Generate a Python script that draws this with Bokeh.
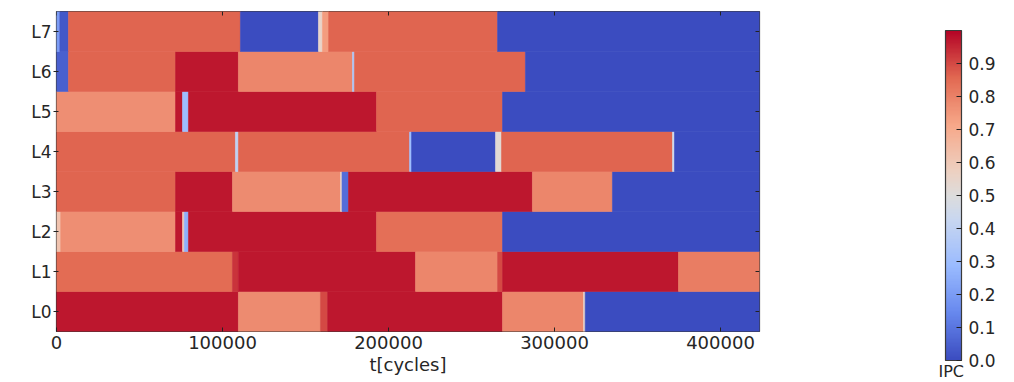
import numpy as np
from bokeh.plotting import figure
from bokeh.models import (Range1d, FixedTicker, LinearColorMapper, ColorBar,
                          ColumnDataSource)
from bokeh.transform import linear_cmap
from bokeh.embed import file_html
from bokeh.resources import INLINE

# ---------------- data ----------------
rows = ["L0", "L1", "L2", "L3", "L4", "L5", "L6", "L7"]
t_max = 423500
x_ticks = [0, 100000, 200000, 300000, 400000]
x_tick_labels = ["0", "100000", "200000", "300000", "400000"]
cb_ticks = [0.0, 0.1, 0.2, 0.3, 0.4, 0.5, 0.6, 0.7, 0.8, 0.9]
cb_tick_labels = ["0.0", "0.1", "0.2", "0.3", "0.4", "0.5", "0.6", "0.7", "0.8", "0.9"]

L0_edges = [0, 109600, 159000, 163300, 268700, 317500, 318500, t_max]
L0_ipc = [0.97, 0.78, 0.90, 0.97, 0.79, 0.55, 0.0]

L1_edges = [0, 106000, 109600, 216300, 265700, 268700, 374700, t_max]
L1_ipc = [0.85, 0.93, 0.97, 0.79, 0.90, 0.97, 0.81]

L2_edges = [0, 2500, 71700, 75900, 77000, 79500, 192800, 268700, t_max]
L2_ipc = [0.62, 0.77, 0.97, 0.60, 0.25, 0.97, 0.84, 0.0]

L3_edges = [0, 71700, 106000, 171100, 172000, 175900, 286700, 334900, t_max]
L3_ipc = [0.86, 0.97, 0.78, 0.55, 0.08, 0.97, 0.79, 0.0]

L4_edges = [0, 107800, 109600, 212700, 213900, 264500, 268100, 371100, 372300, t_max]
L4_ipc = [0.86, 0.40, 0.86, 0.30, 0.0, 0.52, 0.86, 0.45, 0.0]

L5_edges = [0, 71700, 75900, 79500, 192800, 268700, t_max]
L5_ipc = [0.77, 0.97, 0.30, 0.97, 0.86, 0.0]

L6_edges = [0, 7200, 71700, 109600, 178300, 179500, 282500, t_max]
L6_ipc = [0.05, 0.86, 0.97, 0.79, 0.35, 0.86, 0.0]

L7_edges = [0, 2000, 7200, 110800, 157800, 160200, 163900, 265700, t_max]
L7_ipc = [0.20, 0.03, 0.86, 0.0, 0.55, 0.74, 0.86, 0.0]

all_edges = [L0_edges, L1_edges, L2_edges, L3_edges, L4_edges, L5_edges, L6_edges, L7_edges]
all_ipc = [L0_ipc, L1_ipc, L2_ipc, L3_ipc, L4_ipc, L5_ipc, L6_ipc, L7_ipc]

# ---------------- coolwarm palette ----------------
anchors_pos = [0.0, 1/7, 2/7, 3/7, 0.5, 4/7, 5/7, 6/7, 1.0]
anchors_rgb = [(59, 76, 192), (103, 136, 238), (154, 187, 255), (201, 215, 240),
               (221, 220, 220), (237, 209, 194), (247, 168, 137), (226, 105, 82),
               (180, 4, 38)]
grid = np.linspace(0, 1, 256)
ch = np.array(anchors_rgb, dtype=float)
palette = []
for g in grid:
    r = np.interp(g, anchors_pos, ch[:, 0])
    gg = np.interp(g, anchors_pos, ch[:, 1])
    b = np.interp(g, anchors_pos, ch[:, 2])
    palette.append("#%02x%02x%02x" % (int(round(r)), int(round(gg)), int(round(b))))

# ---------------- build source ----------------
left, right, bottom, top, ipc = [], [], [], [], []
for i, (edges, vals) in enumerate(zip(all_edges, all_ipc)):
    for k, v in enumerate(vals):
        left.append(edges[k])
        right.append(edges[k + 1])
        bottom.append(i - 0.5)
        top.append(i + 0.5)
        ipc.append(v)
src = ColumnDataSource(dict(left=left, right=right, bottom=bottom, top=top, ipc=ipc))

FONT = "DejaVu Sans"
TXT = "#262626"

p = figure(width=1014, height=382, output_backend="svg", toolbar_location=None,
           x_range=Range1d(0, t_max), y_range=Range1d(-0.5, 7.5),
           min_border_left=56, min_border_right=255, min_border_top=11,
           min_border_bottom=51)
mapper = LinearColorMapper(palette=palette, low=0, high=1)
cmap = linear_cmap("ipc", palette, 0, 1)
p.quad(left="left", right="right", bottom="bottom", top="top", source=src,
       fill_color=cmap, line_color=cmap, line_width=0.6)

# inward ticks along top and right frame edges
tick_len_x = t_max * 4 / 703
tick_len_y = 8 * 4 / 320
p.segment(x0=x_ticks, x1=x_ticks, y0=[7.5] * len(x_ticks),
          y1=[7.5 - tick_len_y] * len(x_ticks), line_color="#222", line_width=1)
p.segment(x0=[t_max] * 8, x1=[t_max - tick_len_x] * 8, y0=list(range(8)),
          y1=list(range(8)), line_color="#222", line_width=1)

p.grid.visible = False
p.outline_line_color = "#3a3a3a"
p.outline_line_width = 1.2
p.background_fill_color = "white"

xa = p.xaxis[0]
xa.ticker = FixedTicker(ticks=x_ticks)
xa.major_label_overrides = {t: s for t, s in zip(x_ticks, x_tick_labels)}
xa.axis_label = "t[cycles]"
xa.axis_line_color = None
xa.major_tick_in = 4
xa.major_tick_out = 0
xa.minor_tick_line_color = None
xa.major_tick_line_color = "#222"
xa.major_label_text_font = FONT
xa.major_label_text_font_size = "18px"
xa.major_label_text_color = TXT
xa.major_label_standoff = 4
xa.axis_label_text_font = FONT
xa.axis_label_text_font_size = "18px"
xa.axis_label_text_font_style = "normal"
xa.axis_label_text_color = TXT
xa.axis_label_standoff = 2

ya = p.yaxis[0]
ya.ticker = FixedTicker(ticks=list(range(8)))
ya.major_label_overrides = {i: r for i, r in enumerate(rows)}
ya.axis_line_color = None
ya.major_tick_in = 2
ya.major_tick_out = 3
ya.minor_tick_line_color = None
ya.major_tick_line_color = "#222"
ya.major_label_text_font = FONT
ya.major_label_text_font_size = "17px"
ya.major_label_text_color = TXT
ya.major_label_standoff = 2

# ---------------- colorbar ----------------
color_bar = ColorBar(color_mapper=mapper, location=(889, -29), width=16, height=330,
                     padding=0, background_fill_alpha=0, border_line_color=None,
                     bar_line_color="#3a3a3a", bar_line_width=1.2,
                     ticker=FixedTicker(ticks=cb_ticks),
                     major_label_overrides={t: s for t, s in zip(cb_ticks, cb_tick_labels)},
                     major_tick_in=5, major_tick_out=0, major_tick_line_color="#222",
                     minor_tick_line_color=None, label_standoff=7,
                     major_label_text_font=FONT, major_label_text_font_size="17px",
                     major_label_text_color=TXT)
p.add_layout(color_bar, "center")

# "IPC" caption under the colour bar: title of an otherwise invisible colour bar
ipc_caption = ColorBar(color_mapper=mapper, location=(882, -50), width=30, height=1,
                       orientation="horizontal",
                       padding=0, background_fill_alpha=0, border_line_color=None,
                       bar_line_color=None, scale_alpha=0,
                       ticker=FixedTicker(ticks=[]), major_tick_line_color=None,
                       minor_tick_line_color=None, major_label_text_font_size="16px",
                       title="IPC", title_standoff=0, title_text_font=FONT,
                       title_text_font_size="16px", title_text_font_style="normal",
                       title_text_color=TXT)
p.add_layout(ipc_caption, "center")

open("out.html", "w").write(file_html(p, INLINE))
